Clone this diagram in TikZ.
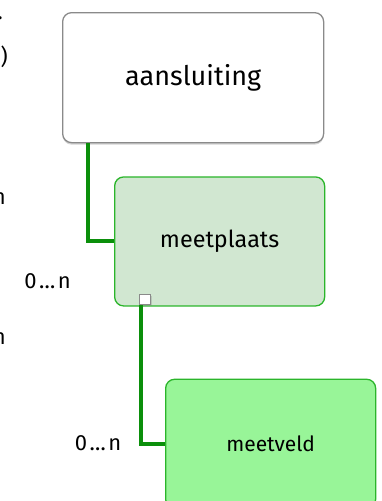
\documentclass[tikz,border=0pt]{standalone}
\usepackage{fontspec}
\setmainfont{Fira Sans}
\usepackage{xcolor}
\usepackage{tikz}
\usetikzlibrary{positioning, shadows}

\definecolor{rootgray}{HTML}{8A8A8A}
\definecolor{boxgreen}{HTML}{2BB52B}
\definecolor{palegreen}{HTML}{D1E7D1}
\definecolor{brightgreen}{HTML}{98F598}
\definecolor{linkgreen}{HTML}{0B8F0B}

\newcommand{\zeroton}{0\kern2.5pt…\kern2.5pt n}

\begin{document}
\begin{tikzpicture}[x=1pt, y=-1pt]

  \tikzstyle{entity}=[rounded corners=9pt, draw, align=center, inner sep=0pt, line width=1.3pt, minimum width=210pt, minimum height=129pt]
  \tikzstyle{root}=[entity, draw=rootgray, fill=white, minimum width=261pt, minimum height=130pt, drop shadow={shadow xshift=0pt, shadow yshift=-2pt, opacity=.35}]
  \tikzstyle{sub}=[entity, draw=boxgreen, fill=palegreen]
  \tikzstyle{leaf}=[entity, draw=boxgreen, fill=brightgreen]
  \tikzstyle{port}=[draw=rootgray, fill=white, line width=.8pt, minimum width=11pt, minimum height=10pt, inner sep=0pt, drop shadow={shadow xshift=1pt, shadow yshift=-1pt, opacity=.3}]
  \tikzstyle{link}=[line width=4pt, draw=linkgreen]
  \tikzstyle{card}=[font=\fontsize{22}{22}\selectfont, inner sep=0pt]

  \clip (0,0) rectangle (381,501);

  \node [root, anchor=north west, font=\fontsize{27}{27}\selectfont] (aansl) at (62,12) {aansluiting};
  \node [sub, below right = 33pt and 52pt of aansl.south west, font=\fontsize{23.4}{23.4}\selectfont] (mplaats) {meetplaats};
  \node [leaf, below right = 72pt and 51pt of mplaats.south west, font=\fontsize{21}{21}\selectfont] (mveld) {meetveld};
  \node [port] (mport) at ([shift={(31,-7)}]mplaats.south west) {};

  \draw [link] ([xshift=26pt]aansl.south west) |- (mplaats.west);
  \draw [link] ([xshift=-4.5pt]mport.south) |- (mveld.west);

  \node [card] (card-mplaats) at (47.5,281) {\zeroton};
  \node [card] (card-mveld) at (98,443) {\zeroton};

  % labels of the neighbouring entities, cut off at the left edge
  \node [card, anchor=east] (card-top) at (3,18) {…};
  \node [card, anchor=east] (card-opt) at (8,57) {(0…1)};
  \node [card, anchor=east] (card-left-1) at (6,197) {\zeroton};
  \node [card, anchor=east] (card-left-2) at (6,337) {\zeroton};
\end{tikzpicture}
\end{document}
